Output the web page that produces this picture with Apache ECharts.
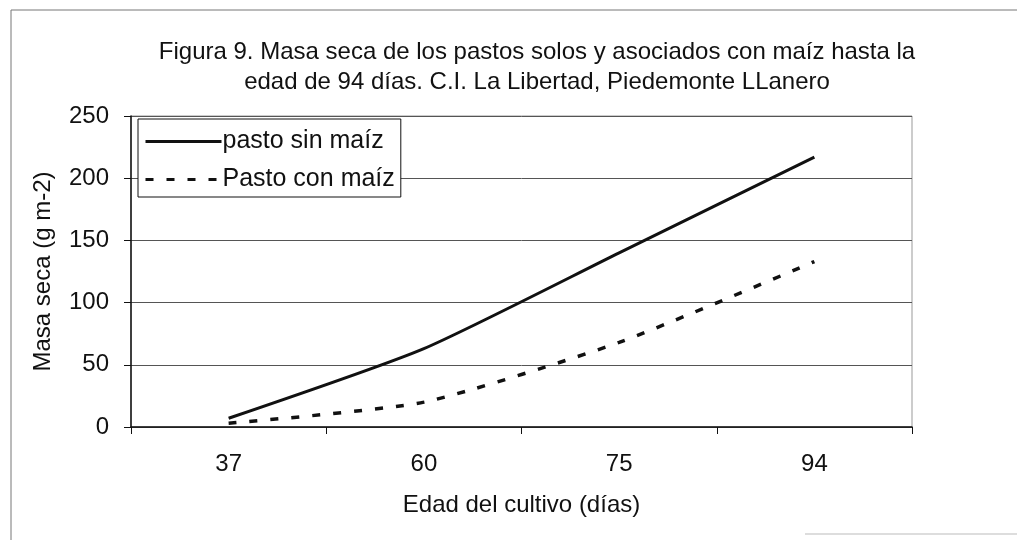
<!DOCTYPE html>
<html>
<head>
<meta charset="utf-8">
<script src="https://cdn.jsdelivr.net/npm/echarts@6/dist/echarts.min.js"></script>
<style>
  html, body { margin: 0; padding: 0; background: #fff; }
  #chart { width: 1017px; height: 540px; }
</style>
</head>
<body>
<div id="chart"></div>
<script>
// categories (edad del cultivo, días)
const dias = ['37', '60', '75', '94']
// masa seca (g m-2)
const pastoSinMaiz = [7, 63, 140, 217]
const pastoConMaiz = [3, 20, 68, 133]
const yTicks = { min: 0, max: 250, interval: 50 }

const font = 'Liberation Sans, Arial, sans-serif'
const chart = echarts.init(document.getElementById('chart'), null, { renderer: 'canvas' })

chart.setOption({
  backgroundColor: '#fff',
  animation: false,
  title: {
    text: 'Figura 9. Masa seca de los pastos solos y asociados con maíz hasta la\nedad de 94 días. C.I. La Libertad, Piedemonte LLanero',
    left: 532,
    top: 32,
    textAlign: 'center',
    textStyle: { fontFamily: font, fontSize: 24, fontWeight: 'normal', color: '#111', lineHeight: 30 },
  },
  // scanned page frame
  graphic: [
    { type: 'polyline', silent: true, shape: { points: [[11, 540], [11, 10], [1017, 10]] }, style: { stroke: '#777', lineWidth: 1, fill: null } },
    { type: 'line', silent: true, shape: { x1: 805, y1: 534, x2: 1017, y2: 534 }, style: { stroke: '#bbb', lineWidth: 1 } },
  ],
  legend: {
    orient: 'vertical',
    left: 138,
    top: 119,
    padding: [10, 6, 5, 6],
    itemGap: 13,
    itemWidth: 76,
    itemHeight: 14,
    borderColor: '#111',
    borderWidth: 1,
    backgroundColor: '#fff',
    itemStyle: { opacity: 0 },
    lineStyle: { width: 3 },
    textStyle: { fontFamily: font, fontSize: 25, lineHeight: 25, color: '#111', padding: [0, 0, 0, -4] },
    data: ['pasto sin maíz', 'Pasto con maíz'],
  },
  grid: {
    left: 131,
    right: 105,
    top: 116,
    bottom: 113,
    show: true,
    borderColor: '#999',
    borderWidth: 1,
    containLabel: false,
  },
  xAxis: {
    type: 'category',
    data: dias,
    boundaryGap: true,
    name: 'Edad del cultivo (días)',
    nameLocation: 'middle',
    nameGap: 66,
    nameTextStyle: { fontFamily: font, fontSize: 24, color: '#111' },
    axisLine: { lineStyle: { color: '#111', width: 1.5 } },
    axisTick: { show: true, length: 7, lineStyle: { color: '#111' } },
    axisLabel: { fontFamily: font, fontSize: 24, color: '#111', margin: 25 },
    splitLine: { show: false },
  },
  yAxis: {
    type: 'value',
    min: yTicks.min,
    max: yTicks.max,
    interval: yTicks.interval,
    name: 'Masa seca (g m-2)',
    nameLocation: 'middle',
    nameGap: 76,
    nameTextStyle: { fontFamily: font, fontSize: 24, color: '#111' },
    axisLine: { show: true, lineStyle: { color: '#111', width: 1.5 } },
    axisTick: { show: true, length: 7, lineStyle: { color: '#111' } },
    axisLabel: { fontFamily: font, fontSize: 24, color: '#111', margin: 22 },
    splitLine: { show: true, lineStyle: { color: '#555', width: 1 } },
  },
  series: [
    {
      name: 'pasto sin maíz',
      type: 'line',
      data: pastoSinMaiz,
      smooth: 0.2,
      symbol: 'none',
      lineStyle: { color: '#111', width: 3 },
      itemStyle: { color: '#111' },
    },
    {
      name: 'Pasto con maíz',
      type: 'line',
      data: pastoConMaiz,
      smooth: 0.2,
      symbol: 'none',
      lineStyle: { color: '#111', width: 3.5, type: [8, 13] },
      itemStyle: { color: '#111' },
    },
  ],
})
</script>
</body>
</html>
